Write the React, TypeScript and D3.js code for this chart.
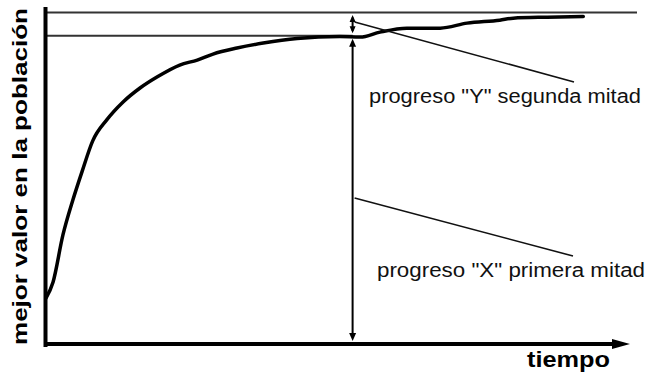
import React from "react";
import * as d3 from "d3";

// time (0..100) and best value in population (0..100)
const times = [0, 1.2, 2.9, 4.6, 6.2, 8.0, 10.4, 13.2, 16.1, 19.0, 22.9, 25.9, 28.6, 32.7, 37.2, 43.0, 50.3, 53.8, 57.2, 61.8, 67.5, 72.1, 77.7, 80.0, 85.8, 92.0];
const values = [14.1, 18.9, 33.1, 43.6, 52.3, 61.4, 67.7, 73.1, 77.3, 80.6, 84.2, 85.7, 87.5, 89.3, 90.8, 92.2, 92.8, 92.6, 94.1, 95.3, 95.3, 96.8, 97.7, 98.3, 98.6, 98.8];

const midTime = 52.5;
const midValue = 93;
const maxValue = 100;

const xLabel = "tiempo";
const yLabel = "mejor valor en la población";
const labelY = 'progreso "Y" segunda mitad';
const labelX = 'progreso "X" primera mitad';

const W = 648;
const H = 374;

export default function App() {
  const x = d3.scaleLinear().domain([0, 100]).range([46, 630]);
  const y = d3.scaleLinear().domain([0, 100]).range([345, 12.5]);
  const data = times.map((t, i) => [t, values[i]] as [number, number]);
  const line = d3
    .line<[number, number]>()
    .x((d) => x(d[0]))
    .y((d) => y(d[1]))
    .curve(d3.curveMonotoneX);

  const xm = x(midTime);
  const yTop = y(maxValue);
  const yMid = y(midValue);
  const yBase = y(0);
  const font = "'Liberation Sans', Arial, sans-serif";

  const headUp = (tx: number, ty: number, w = 3.5, h = 8) =>
    `M${tx},${ty} L${tx - w},${ty + h} L${tx + w},${ty + h} Z`;
  const headDown = (tx: number, ty: number, w = 3.5, h = 8) =>
    `M${tx},${ty} L${tx - w},${ty - h} L${tx + w},${ty - h} Z`;

  return (
    <svg
      width={W}
      height={H}
      style={{ position: "absolute", left: 0, top: 0, background: "#fff" }}
    >
      {/* reference horizontal lines */}
      <line x1={46} x2={637} y1={yTop} y2={yTop} stroke="#333" strokeWidth={2} />
      <line x1={46} x2={xm} y1={yMid} y2={yMid} stroke="#333" strokeWidth={2} />

      {/* curve */}
      <path d={line(data) || ""} fill="none" stroke="#000" strokeWidth={3.5} strokeLinejoin="round" strokeLinecap="round" />

      {/* axes */}
      <line x1={45.5} x2={45.5} y1={7} y2={yBase + 2} stroke="#000" strokeWidth={4} />
      <line x1={44} x2={614} y1={yBase - 1} y2={yBase - 1} stroke="#000" strokeWidth={4} />
      <path d={`M630,${yBase - 1} L612,${yBase - 6} L612,${yBase + 4} Z`} fill="#000" />

      {/* big double arrow (X) */}
      <line x1={xm} x2={xm} y1={yMid + 6} y2={yBase - 8} stroke="#000" strokeWidth={2} />
      <path d={headUp(xm, yMid + 3)} fill="#000" />
      <path d={headDown(xm, yBase - 4)} fill="#000" />

      {/* small double arrow (Y) */}
      <line x1={xm} x2={xm} y1={yTop + 5} y2={yMid - 5} stroke="#000" strokeWidth={2} />
      <path d={headUp(xm, yTop + 2.5, 3, 7)} fill="#000" />
      <path d={headDown(xm, yMid - 2.5, 3, 7)} fill="#000" />

      {/* annotation leaders */}
      <line x1={xm + 2} y1={22} x2={574} y2={82} stroke="#111" strokeWidth={1.6} />
      <line x1={xm + 2} y1={198} x2={573} y2={256} stroke="#111" strokeWidth={1.6} />

      {/* annotation texts */}
      <text x={369} y={103} fontFamily={font} fontSize={20} fill="#111" textLength={272} lengthAdjust="spacingAndGlyphs">
        {labelY}
      </text>
      <text x={377} y={277} fontFamily={font} fontSize={20} fill="#111" textLength={268} lengthAdjust="spacingAndGlyphs">
        {labelX}
      </text>

      {/* axis titles */}
      <text x={527} y={367} fontFamily={font} fontSize={22} fontWeight="bold" fill="#000" textLength={83} lengthAdjust="spacingAndGlyphs">
        {xLabel}
      </text>
      <text
        transform={`translate(27,${(345 + 8) / 2}) rotate(-90)`}
        textAnchor="middle"
        fontFamily={font}
        fontSize={20}
        fontWeight="bold"
        fill="#000"
        textLength={337}
        lengthAdjust="spacingAndGlyphs"
      >
        {yLabel}
      </text>
    </svg>
  );
}
